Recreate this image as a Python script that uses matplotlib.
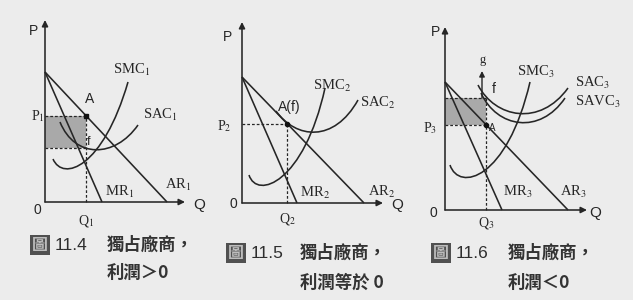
import matplotlib
matplotlib.use("Agg")
import matplotlib.pyplot as plt
from matplotlib.path import Path
from matplotlib.patches import PathPatch, Rectangle

plt.rcParams['mathtext.fontset'] = 'stix'

# ---------------- data (local units of each diagram) ----------------
# Panel 1: profit > 0
ar1 = [(0, 130), (122, 0)]
mr1 = [(0, 130), (57, 0)]
q1, p1, ac1 = 41, 86, 54
smc1 = [(8, 43), (18, 20), (58, 34), (83, 120)]
sac1 = [(15, 80), (30, 43), (70, 44), (93, 77)]

# Panel 2: profit = 0
ar2 = [(0, 126), (122, 0)]
mr2 = [(0, 126), (55, 0)]
q2, p2 = 45, 79
smc2 = [(7, 28), (15, 3), (62, 20), (83, 115)]
sac2 = [(34, 92), (54, 64), (92, 60), (116, 103)]

# Panel 3: profit < 0
ar3 = [(0, 128), (123, 0)]
mr3 = [(0, 128), (57, 0)]
q3, p3, ac3 = 41, 85, 112
smc3 = [(5, 45), (14, 18), (62, 30), (85, 128)]
sac3 = [(33, 125), (50, 92), (95, 83), (123, 122)]
savc3 = [(36, 117), (52, 82), (95, 75), (120, 112)]

captions = [("圖", "11.4", "獨占廠商，", "利潤＞0"),
            ("圖", "11.5", "獨占廠商，", "利潤等於 0"),
            ("圖", "11.6", "獨占廠商，", "利潤＜0")]

# ---------------- drawing ----------------
W_PX, H_PX = 633, 300
fig = plt.figure(figsize=(6.33, 3.0), dpi=100)
fig.patch.set_facecolor('#ececec')

INK = '#262626'
LW = 1.15
SERIF = ['Liberation Serif', 'DejaVu Serif']
SANS = ['Liberation Sans', 'DejaVu Sans']
CJK = ['Noto Sans CJK TC', 'DejaVu Sans']


def panel(ox, oy):
    ax = fig.add_axes([0, 0, 1, 1])
    ax.set_xlim(-ox, W_PX - ox)
    ax.set_ylim(oy - H_PX, oy)
    ax.axis('off')
    ax.patch.set_alpha(0)
    return ax


def axes_arrows(ax, w, h):
    kw = dict(arrowstyle='-|>', lw=LW, color=INK, mutation_scale=9,
              shrinkA=0, shrinkB=0)
    ax.annotate('', xy=(0, h), xytext=(0, 0), arrowprops=kw)
    ax.annotate('', xy=(w, 0), xytext=(0, 0), arrowprops=kw)


def line(ax, pts):
    xs, ys = zip(*pts)
    ax.plot(xs, ys, color=INK, lw=LW, solid_capstyle='butt')


def bez(ax, pts):
    codes = [Path.MOVETO, Path.CURVE4, Path.CURVE4, Path.CURVE4]
    ax.add_patch(PathPatch(Path(pts, codes), fill=False, ec=INK, lw=LW))


def dashed(ax, xs, ys):
    ax.plot(xs, ys, color=INK, lw=0.9, ls=(0, (2.2, 1.6)))


def lab(ax, x, y, s, size=10.5, fam=SERIF, ha='left', va='center', **k):
    ax.text(x, y, s, fontsize=size, family=fam, ha=ha, va=va, color=INK, **k)


# ---- Panel 1
ax = panel(45, 202)
ax.add_patch(Rectangle((0, ac1), q1, p1 - ac1, fc='#a9a9a9', ec='none'))
axes_arrows(ax, 140, 182)
line(ax, ar1)
line(ax, mr1)
bez(ax, smc1)
bez(ax, sac1)
dashed(ax, [0, q1], [p1, p1])
dashed(ax, [0, q1], [ac1, ac1])
dashed(ax, [q1, q1], [0, p1])
ax.plot([q1], [p1], marker='s', ms=3.2, color='#111111')
lab(ax, -12, 171, 'P', 10, SANS, ha='center')
lab(ax, -8, -8, '0', 10, SANS, ha='center')
lab(ax, 154, -3, 'Q', 11, SANS, ha='center')
lab(ax, q1, -19, 'Q$_1$', 10, ha='center')
lab(ax, -7, 86, 'P$_1$', 10, ha='center')
lab(ax, 45, 103, 'A', 10, SANS, ha='center')
lab(ax, 44, 60, 'f', 9, SANS, ha='center')
lab(ax, 68, 132, 'SMC$_1$')
lab(ax, 98, 87, 'SAC$_1$')
lab(ax, 60, 10, 'MR$_1$')
lab(ax, 120, 17, 'AR$_1$')

# ---- Panel 2
ax = panel(242, 203)
axes_arrows(ax, 141, 181)
line(ax, ar2)
line(ax, mr2)
bez(ax, smc2)
bez(ax, sac2)
dashed(ax, [0, q2], [p2, p2])
dashed(ax, [q2, q2], [0, p2])
ax.plot([q2], [p2], marker='o', ms=3, color='#111111')
lab(ax, -14, 166, 'P', 10, SANS, ha='center')
lab(ax, -9, -1, '0', 10, SANS, ha='center')
lab(ax, 155, -2, 'Q', 11, SANS, ha='center')
lab(ax, q2, -16, 'Q$_2$', 10, ha='center')
lab(ax, -18, 77, 'P$_2$', 10, ha='center')
lab(ax, 36, 96, 'A(f)', 10, SANS)
lab(ax, 71, 117, 'SMC$_2$')
lab(ax, 118, 100, 'SAC$_2$')
lab(ax, 58, 10, 'MR$_2$')
lab(ax, 126, 11, 'AR$_2$')

# ---- Panel 3
ax = panel(445, 210)
ax.add_patch(Rectangle((0, p3), q3, ac3 - p3, fc='#a9a9a9', ec='none'))
axes_arrows(ax, 142, 183)
line(ax, ar3)
line(ax, mr3)
bez(ax, smc3)
bez(ax, sac3)
bez(ax, savc3)
dashed(ax, [0, q3], [p3, p3])
dashed(ax, [0, q3], [ac3, ac3])
dashed(ax, [q3, q3], [0, ac3])
ax.plot([q3], [p3], marker='o', ms=3, color='#111111')
ax.annotate('', xy=(37, 139), xytext=(37, 112),
            arrowprops=dict(arrowstyle='-|>', lw=1.0, color=INK,
                            mutation_scale=8, shrinkA=0, shrinkB=0))
lab(ax, 38, 150, 'g', 9, ha='center')
lab(ax, 49, 121, 'f', 10, SANS, ha='center')
lab(ax, 47, 82, 'A', 7, SANS, ha='center')
lab(ax, -10, 178, 'P', 10, SANS, ha='center')
lab(ax, -12, -3, '0', 10, SANS, ha='center')
lab(ax, 150, -3, 'Q', 11, SANS, ha='center')
lab(ax, q3, -13, 'Q$_3$', 10, ha='center')
lab(ax, -15, 82, 'P$_3$', 10, ha='center')
lab(ax, 72, 138, 'SMC$_3$')
lab(ax, 130, 127, 'SAC$_3$')
lab(ax, 130, 108, 'SAVC$_3$')
lab(ax, 58, 18, 'MR$_3$')
lab(ax, 115, 18, 'AR$_3$')

# ---- captions (figure pixel positions)
cap_pos = [(32, 245, 107, 273), (228, 253, 300, 283), (433, 253, 508, 283)]
for (fig_c, num, t1, t2), (x0, y0, x1, y2) in zip(captions, cap_pos):
    fy = lambda y: 1 - y / H_PX
    fig.text(x0 / W_PX, fy(y0), fig_c, fontsize=11.5, family=CJK,
             weight='bold', color='#bdbdbd', ha='left', va='center',
             bbox=dict(boxstyle='square,pad=0.12', fc='#505050', ec='none'))
    fig.text((x0 + 23) / W_PX, fy(y0), num, fontsize=12.5, family=SANS,
             color='#2e2e2e', ha='left', va='center')
    fig.text(x1 / W_PX, fy(y0), t1, fontsize=12.5, family=CJK, weight='bold',
             color='#333333', ha='left', va='center')
    fig.text(x1 / W_PX, fy(y2), t2, fontsize=12.5, family=CJK, weight='bold',
             color='#333333', ha='left', va='center')

fig.savefig('out.png', dpi=100, facecolor=fig.get_facecolor())
